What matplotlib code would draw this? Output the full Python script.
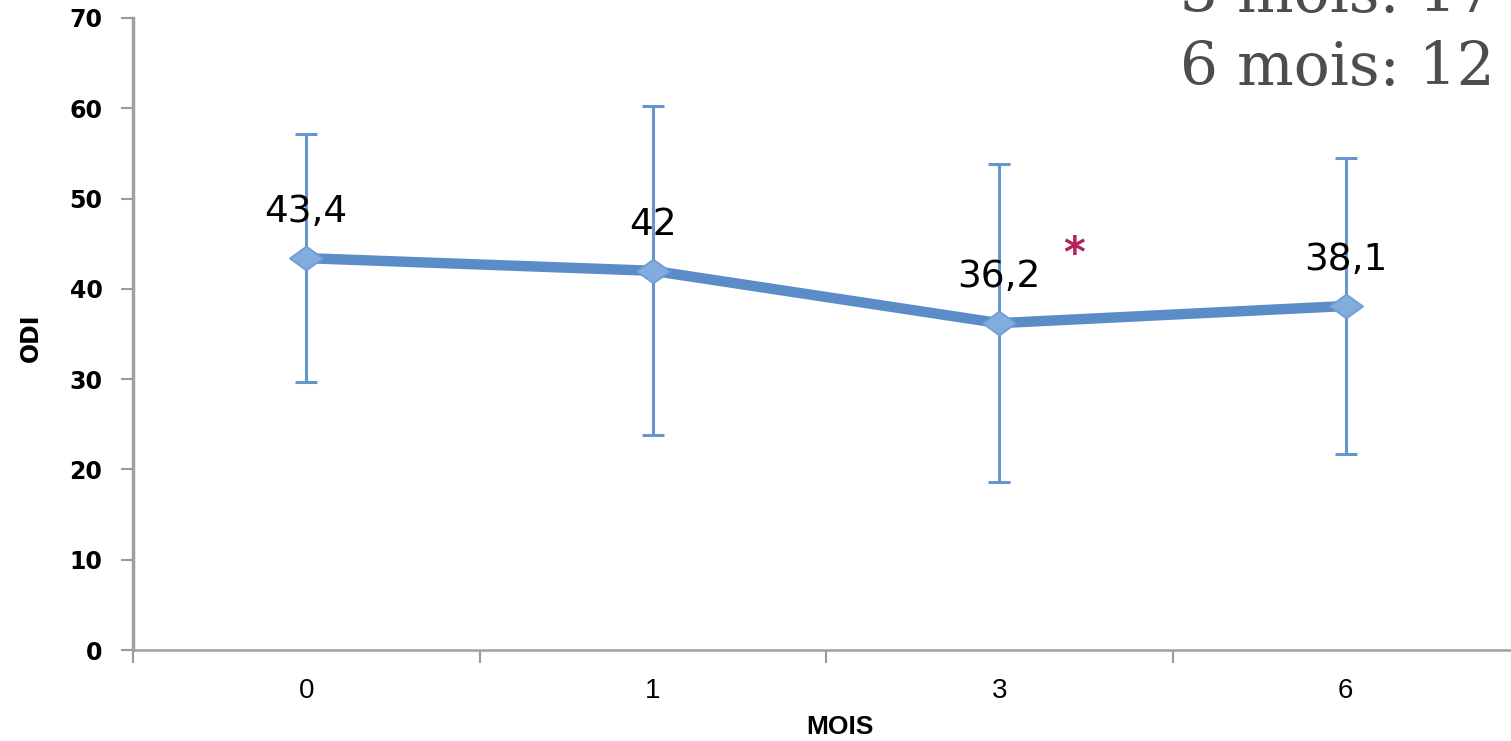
import matplotlib.pyplot as plt
from matplotlib.path import Path

# ---------- données ----------
mois = ["0", "1", "3", "6"]
odi = [43.4, 42.0, 36.2, 38.1]
odi_sd = [13.7, 18.2, 17.6, 16.4]
etiquettes = ["43,4", "42", "36,2", "38,1"]
yticks = [0, 10, 20, 30, 40, 50, 60, 70]

# ---------- canvas ----------
W, H = 1511, 741
fig = plt.figure(figsize=(W / 100, H / 100), dpi=100)
ax = fig.add_axes([133 / W, 1 - 650 / H, (1519 - 133) / W, (650 - 18) / H])

x = [i + 0.5 for i in range(len(mois))]
bleu = '#5b8cc8'
losange = Path([(-1, 0), (0, 0.72), (1, 0), (0, -0.72), (-1, 0)],
               [Path.MOVETO, Path.LINETO, Path.LINETO, Path.LINETO, Path.CLOSEPOLY])

# barres d'erreur
ax.errorbar(x, odi, yerr=odi_sd, fmt='none', ecolor='#6796cf',
            elinewidth=2.2, capsize=8, capthick=2.2, zorder=2)
# courbe principale
ax.plot(x, odi, color=bleu, lw=7.5, solid_capstyle='butt', zorder=3)
ax.plot(x, odi, linestyle='none', marker=losange, markersize=24,
        markerfacecolor='#82acde', markeredgecolor='#6e9dd3',
        markeredgewidth=1.2, zorder=4)

# étiquettes de valeurs
for xi, yi, lab in zip(x, odi, etiquettes):
    ax.annotate(lab, (xi, yi), xytext=(0, 20), textcoords='offset points',
                ha='center', va='bottom', fontsize=27, color='black',
                family='DejaVu Sans')

# astérisque
ax.annotate('*', (x[2], odi[2]), xytext=(54, 34), textcoords='offset points',
            ha='center', va='bottom', fontsize=30, color='#b3245c',
            family='DejaVu Sans', fontweight='bold')

# ---------- axes ----------
ax.set_xlim(0, len(mois))
ax.set_ylim(0, 70)
ax.set_yticks(yticks)
ax.set_yticklabels([str(v) for v in yticks], family='DejaVu Sans',
                   fontsize=17, fontweight='bold')
ax.set_xticks(range(len(mois) + 1))
ax.set_xticklabels([])
ax.set_xticks(x, minor=True)
ax.set_xticklabels(mois, minor=True, fontsize=20,
                   family=['Liberation Sans Narrow', 'Liberation Sans'])
ax.tick_params(axis='x', which='minor', length=0, pad=20)
ax.tick_params(axis='x', which='major', length=9, width=1.5, color='#9a9a9a')
ax.tick_params(axis='y', length=9, width=1.5, color='#9a9a9a', pad=13)

for s in ['top', 'right']:
    ax.spines[s].set_visible(False)
ax.spines['left'].set_color('#a0a0a0')
ax.spines['left'].set_linewidth(2.5)
ax.spines['bottom'].set_color('#a0a0a0')
ax.spines['bottom'].set_linewidth(1.8)

fig.text(31 / W, 1 - 338 / H, 'ODI', rotation=90, ha='center', va='center',
         fontsize=17, fontweight='bold', family='DejaVu Sans')
fig.text(840 / W, 1 - 727 / H, 'MOIS', ha='center', va='center',
         fontsize=19, fontweight='bold',
         family=['Liberation Sans Narrow', 'Liberation Sans'])

# texte de la diapositive, coupé en haut
fig.text(1180 / W, 1 - 12 / H, '3 mois: 17', ha='left', va='baseline',
         fontsize=43, color='#4d4d4d', family='DejaVu Serif')
fig.text(1180 / W, 1 - 85 / H, '6 mois: 12', ha='left', va='baseline',
         fontsize=43, color='#4d4d4d', family='DejaVu Serif')

fig.savefig('out.png', dpi=100)
